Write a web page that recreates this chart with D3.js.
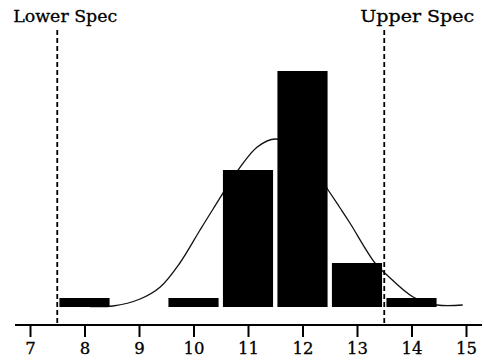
<!DOCTYPE html>
<html>
<head>
<meta charset="utf-8">
<script src="https://cdn.jsdelivr.net/npm/d3@7"></script>
<style>
body { margin: 0; background: #fff; }
svg { display: block; }
</style>
</head>
<body>
<svg id="chart" width="484" height="364"></svg>
<script>
// histogram of measurements, counts per integer bin
var binCenters = [8, 10, 11, 12, 13, 14]
var binCounts = [0.9, 0.9, 13.7, 23.6, 4.4, 0.9]

// fitted curve
var curveX = [8.1, 8.52, 9.02, 9.39, 9.75, 10.12, 10.36, 10.82, 11.17, 11.5, 12.0, 12.47, 12.69, 12.87, 13.33, 13.55, 14.03, 14.47, 14.94]
var curveY = [0.05, 0.1, 0.8, 2.0, 4.4, 7.7, 9.8, 13.7, 16.0, 16.8, 15.6, 11.7, 9.9, 8.4, 4.4, 3.2, 1.0, 0.2, 0.2]

var specLimits = [7.5, 13.5]
var specLabels = ["Lower Spec", "Upper Spec"]
var tickValues = [7, 8, 9, 10, 11, 12, 13, 14, 15]

var svg = d3.select("#chart")
var fontFam = "'DejaVu Serif', 'Liberation Serif', serif"

var x = d3.scaleLinear().domain([7, 15]).range([30, 466])
var y = d3.scaleLinear().domain([0, 25]).range([307, 57])
var halfW = 0.46
var axisY = 325
var labelShift = [-44, -24]   // label start relative to its dashed line

// fitted curve (behind bars)
var pts = curveX.map(function(d, i){ return [d, curveY[i]] })
svg.append("path")
    .datum(pts)
    .attr("fill", "none")
    .attr("stroke", "#111")
    .attr("stroke-width", 1.3)
    .attr("d", d3.line()
        .x(function(d){ return x(d[0]) })
        .y(function(d){ return y(d[1]) })
        .curve(d3.curveCatmullRom.alpha(0.5)))

// bars
svg.append("g")
    .selectAll("rect")
    .data(binCenters)
    .enter()
    .append("rect")
    .attr("x", function(d){ return x(d - halfW) })
    .attr("width", function(d){ return x(d + halfW) - x(d - halfW) })
    .attr("y", function(d, i){ return y(binCounts[i]) })
    .attr("height", function(d, i){ return y(0) - y(binCounts[i]) })
    .attr("fill", "#000")

// spec limit lines
svg.append("g")
    .selectAll("line")
    .data(specLimits)
    .enter()
    .append("line")
    .attr("x1", function(d){ return x(d) })
    .attr("x2", function(d){ return x(d) })
    .attr("y1", 30)
    .attr("y2", axisY)
    .attr("stroke", "#000")
    .attr("stroke-width", 1.8)
    .attr("stroke-dasharray", "5,3")

svg.append("g")
    .selectAll("text")
    .data(specLimits)
    .enter()
    .append("text")
    .attr("x", function(d, i){ return x(d) + labelShift[i] })
    .attr("y", 22)
    .attr("text-anchor", "start")
    .attr("font-family", fontFam)
    .attr("font-size", "16.5px")
    .attr("fill", "#000")
    .attr("stroke", "#000")
    .attr("stroke-width", 0.3)
    .attr("textLength", function(d, i){ return i ? 114 : 104 })
    .attr("lengthAdjust", "spacingAndGlyphs")
    .text(function(d, i){ return specLabels[i] })

// x axis
var axis = d3.axisBottom(x)
    .tickValues(tickValues)
    .tickSize(12)
    .tickPadding(5)
    .tickFormat(d3.format("d"))

var ax = svg.append("g")
    .attr("transform", "translate(0," + axisY + ")")
    .call(axis)

ax.select(".domain").remove()
ax.append("line")
    .attr("x1", 15)
    .attr("x2", 482)
    .attr("stroke", "#000")
    .attr("stroke-width", 2)
ax.selectAll(".tick line")
    .attr("stroke", "#000")
    .attr("stroke-width", 2)
ax.selectAll(".tick text")
    .attr("fill", "#000")
    .attr("stroke", "#000")
    .attr("stroke-width", 0.3)
    .attr("font-family", fontFam)
    .attr("font-size", "16.5px")
</script>
</body>
</html>
